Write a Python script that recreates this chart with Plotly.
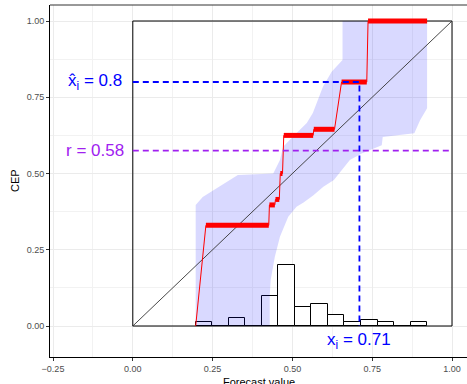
import plotly.graph_objects as go

# Histogram of forecast values (14 equal-width bins)
hist_left_edge = 0.197
hist_bin_width = 0.0518
hist_heights = [0.012, 0.0, 0.025, 0.0, 0.097, 0.201, 0.061, 0.073,
                0.036, 0.013, 0.020, 0.012, 0.0, 0.012]

# CEP step function: constant blocks (start, end, value)
cep_x_start = [0.197, 0.229, 0.428, 0.447, 0.462, 0.473, 0.567, 0.654, 0.737]
cep_x_end = [0.197, 0.426, 0.445, 0.459, 0.469, 0.565, 0.632, 0.733, 0.922]
cep_value = [0.000, 0.330, 0.397, 0.415, 0.500, 0.625, 0.645, 0.800, 1.000]

# Consistency band: upper edge (left to right), lower edge (right to left)
band_upper_x = [0.197, 0.219, 0.329, 0.440, 0.461, 0.471, 0.502, 0.545,
                0.564, 0.576, 0.596, 0.623, 0.657, 0.657, 0.922]
band_upper_y = [0.397, 0.423, 0.495, 0.500, 0.544, 0.588, 0.621, 0.666,
                0.698, 0.731, 0.785, 0.834, 0.872, 1.000, 1.000]
band_lower_x = [0.922, 0.900, 0.882, 0.783, 0.780, 0.717, 0.680, 0.654,
                0.630, 0.597, 0.565, 0.535, 0.513, 0.487, 0.476, 0.461,
                0.445, 0.432, 0.429, 0.429, 0.197]
band_lower_y = [0.714, 0.675, 0.632, 0.620, 0.593, 0.566, 0.544, 0.511,
                0.479, 0.457, 0.428, 0.405, 0.391, 0.358, 0.331, 0.293,
                0.227, 0.151, 0.100, 0.000, 0.000]

# Highlighted point and resolution value
x_i = 0.71
x_hat_i = 0.8
r_value = 0.575

fig = go.Figure()

# band
fig.add_trace(go.Scatter(
    x=band_upper_x + band_lower_x, y=band_upper_y + band_lower_y,
    fill="toself", fillcolor="rgba(0,0,255,0.15)", mode="lines",
    line=dict(width=0), hoverinfo="skip", showlegend=False))

# unit square and diagonal
fig.add_trace(go.Scatter(x=[0, 1, 1, 0, 0], y=[0, 0, 1, 1, 0], mode="lines",
                         line=dict(color="black", width=1), showlegend=False))
fig.add_trace(go.Scatter(x=[0, 1], y=[0, 1], mode="lines",
                         line=dict(color="#333333", width=0.9), showlegend=False))

# histogram bars
centers = [hist_left_edge + hist_bin_width * (k + 0.5) for k in range(len(hist_heights))]
fig.add_trace(go.Bar(x=centers, y=hist_heights, width=hist_bin_width,
                     marker=dict(color="white", line=dict(color="black", width=1)),
                     showlegend=False))

# CEP: thin connecting line plus thick constant blocks
line_x, line_y = [], []
for a, b, v in zip(cep_x_start, cep_x_end, cep_value):
    line_x += [a, b]
    line_y += [v, v]
fig.add_trace(go.Scatter(x=line_x, y=line_y, mode="lines",
                         line=dict(color="red", width=1), showlegend=False))
seg_x, seg_y = [], []
for a, b, v in zip(cep_x_start, cep_x_end, cep_value):
    seg_x += [a, b, None]
    seg_y += [v, v, None]
fig.add_trace(go.Scatter(x=seg_x, y=seg_y, mode="lines",
                         line=dict(color="red", width=5), showlegend=False))

# dashed guides
fig.add_trace(go.Scatter(x=[0, 1], y=[r_value, r_value], mode="lines",
                         line=dict(color="#A020F0", width=1.8, dash="6px,4px"),
                         showlegend=False))
fig.add_trace(go.Scatter(x=[0, x_i, x_i], y=[x_hat_i, x_hat_i, 0], mode="lines",
                         line=dict(color="blue", width=1.8, dash="6px,4px"),
                         showlegend=False))

font_main = "Liberation Sans, Arial, sans-serif"
fig.add_annotation(x=-0.12, y=x_hat_i, text="x̂<sub>i</sub> = 0.8", showarrow=False,
                   font=dict(family=font_main, size=17, color="blue"))
fig.add_annotation(x=-0.12, y=r_value, text="r = 0.58", showarrow=False,
                   font=dict(family=font_main, size=17, color="#A020F0"))
fig.add_annotation(x=x_i, y=-0.05, text="x<sub>i</sub> = 0.71", showarrow=False,
                   font=dict(family=font_main, size=17, color="blue"))

# axis titles
fig.add_annotation(xref="paper", yref="paper", x=0.5, y=0, yanchor="top",
                   yshift=-17, text="Forecast value", showarrow=False,
                   font=dict(family=font_main, size=11, color="black"))
fig.add_annotation(xref="paper", yref="paper", x=0, y=0.5, xanchor="center",
                   xshift=-35, textangle=-90, text="CEP", showarrow=False,
                   font=dict(family=font_main, size=11, color="black"))

# panel top border
fig.add_shape(type="line", xref="paper", yref="paper", x0=0, x1=1, y0=1, y1=1,
              line=dict(color="#333333", width=1))

axis_common = dict(
    automargin=False,
    showgrid=True, gridcolor="#EBEBEB", gridwidth=1, zeroline=False,
    showline=True, linecolor="black", linewidth=1,
    ticks="outside", ticklen=3, tickcolor="#333333", tickwidth=1,
    tickformat=".2f", tick0=0, dtick=0.25,
    tickfont=dict(family=font_main, size=9, color="#4D4D4D"),
    minor=dict(showgrid=True, gridcolor="#F2F2F2", gridwidth=0.6, tick0=0, dtick=0.125),
)

fig.update_layout(
    width=467, height=384,
    margin=dict(l=50, r=0, t=5, b=27),
    paper_bgcolor="white", plot_bgcolor="white",
    bargap=0,
    xaxis=dict(range=[-0.2594, 1.047], **axis_common),
    yaxis=dict(range=[-0.1016, 1.0525], **axis_common),
)

fig.write_html("out.html")
